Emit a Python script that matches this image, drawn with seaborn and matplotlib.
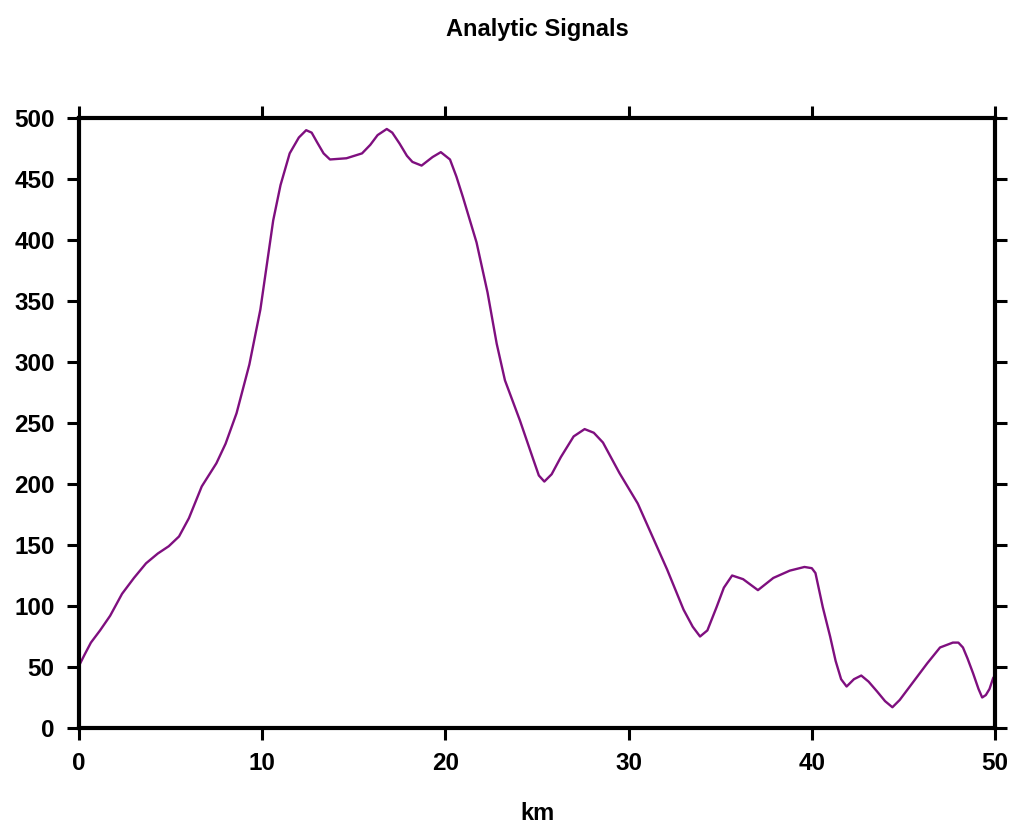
import seaborn as sns
import pandas as pd
import matplotlib
matplotlib.use('Agg')
import matplotlib.pyplot as plt

# profile
km = [0.0, 0.3, 0.65, 1.15, 1.7, 2.35, 3.0, 3.66, 4.3, 4.9, 5.46, 6.0, 6.7, 7.5, 8.0, 8.6,
      9.3, 9.9, 10.6, 11.0, 11.5, 12.0, 12.4, 12.7, 13.0, 13.35, 13.7, 14.6, 15.45, 15.9,
      16.3, 16.8, 17.1, 17.5, 17.9, 18.2, 18.7, 19.3, 19.75, 20.25, 20.6, 20.96, 21.7, 22.3,
      22.8, 23.25, 24.07, 24.8, 25.1, 25.4, 25.8, 26.3, 27.0, 27.6, 28.1, 28.6, 29.5, 30.5,
      31.3, 32.1, 33.0, 33.5, 33.9, 34.3, 34.8, 35.2, 35.65, 36.25, 37.06, 37.9, 38.8, 39.6,
      40.0, 40.2, 40.6, 41.0, 41.3, 41.6, 41.9, 42.3, 42.7, 43.1, 43.56, 44.0, 44.4, 44.8,
      45.2, 45.7, 46.3, 47.0, 47.7, 48.0, 48.25, 48.5, 48.8, 49.1, 49.3, 49.5, 49.7, 49.9, 50.0]
signal = [51, 60, 70, 80, 92, 110, 123, 135, 143, 149, 157, 172, 198, 217, 233, 258,
          298, 343, 416, 445, 471, 484, 490, 488, 480, 471, 466, 467, 471, 478,
          486, 491, 488, 479, 469, 464, 461, 468, 472, 466, 452, 435, 398, 357,
          315, 285, 252, 220, 207, 202, 208, 222, 239, 245, 242, 234, 209, 184,
          157, 130, 97, 83, 75, 80, 99, 115, 125, 122, 113, 123, 129, 132,
          131, 127, 99, 75, 55, 40, 34, 40, 43, 38, 30, 22, 17, 23,
          31, 41, 53, 66, 70, 70, 66, 57, 45, 32, 25, 27, 32, 41, 43]

xticks = [0, 10, 20, 30, 40, 50]
yticks = [0, 50, 100, 150, 200, 250, 300, 350, 400, 450, 500]

sns.set_theme(style='ticks')
plt.rcParams['font.family'] = ['Liberation Sans', 'DejaVu Sans']
plt.rcParams['text.color'] = 'black'
plt.rcParams['xtick.labelcolor'] = 'black'
plt.rcParams['ytick.labelcolor'] = 'black'

df = pd.DataFrame({'km': km, 'signal': signal})

fig = plt.figure(figsize=(10.11, 8.25), dpi=100)
ax = fig.add_axes([79/1011, 1-728/825, (995-79)/1011, (728-118)/825])
sns.lineplot(data=df, x='km', y='signal', sort=False, estimator=None,
             color='#7f0f7f', linewidth=1.7, ax=ax)

ax.set_xlim(0, 50)
ax.set_ylim(0, 500)
ax.set_xticks(xticks)
ax.set_yticks(yticks)
ax.set_xlabel('')
ax.set_ylabel('')
for s in ax.spines.values():
    s.set_visible(True)
    s.set_linewidth(3)
    s.set_color('black')
ax.tick_params(axis='both', which='major', direction='out', length=8.5, width=2.2,
               color='black', labelcolor='black', labelsize=17.5, top=True, right=True)
ax.tick_params(axis='x', pad=9)
ax.tick_params(axis='y', pad=9)
for lab in ax.get_xticklabels() + ax.get_yticklabels():
    lab.set_fontweight('bold')

fig.text(537/1011, 1-36/825, 'Analytic Signals', ha='center', va='baseline',
         fontsize=17, fontweight='bold', color='black')
fig.text(537/1011, 1-820/825, 'km', ha='center', va='baseline',
         fontsize=17, fontweight='bold', color='black')

fig.savefig('out.png', dpi=100)
